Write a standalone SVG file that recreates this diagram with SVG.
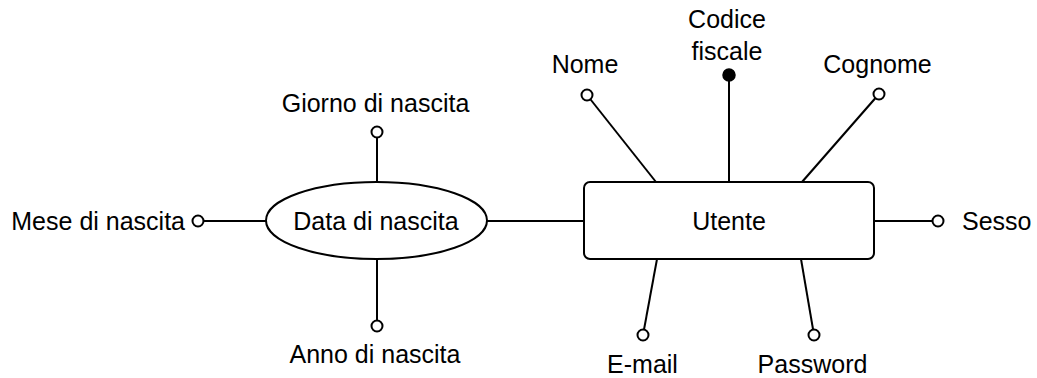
<svg xmlns="http://www.w3.org/2000/svg" width="1037" height="378" viewBox="0 0 1037 378">
  <style>
    .edge { stroke: #000; stroke-width: 2; fill: none; }
    .shape { stroke: #000; stroke-width: 2; fill: #fff; }
    .attr { stroke: #000; stroke-width: 2; fill: #fff; }
    .key { stroke: #000; stroke-width: 1.5; fill: #000; }
    text { font-family: "Liberation Sans", Arial, sans-serif; font-size: 25px; fill: #000; }
    .mid { text-anchor: middle; }
  </style>

  <!-- connectors -->
  <g id="connectors">
    <line class="edge" x1="377" y1="132" x2="377" y2="182"/>
    <line class="edge" x1="377" y1="259" x2="377" y2="326"/>
    <line class="edge" x1="198" y1="221" x2="266" y2="221"/>
    <line class="edge" x1="487" y1="221" x2="584" y2="221"/>
    <line class="edge" x1="587" y1="95" x2="656" y2="182"/>
    <line class="edge" x1="729" y1="75" x2="729" y2="182"/>
    <line class="edge" x1="879" y1="94" x2="802" y2="182"/>
    <line class="edge" x1="874" y1="221" x2="938" y2="221"/>
    <line class="edge" x1="657" y1="259" x2="643" y2="335"/>
    <line class="edge" x1="801" y1="259" x2="814" y2="335"/>
  </g>

  <!-- composite attribute -->
  <g id="data-nascita">
    <ellipse class="shape" cx="376.5" cy="220.5" rx="110.5" ry="38.5"/>
    <text class="mid" x="376" y="230">Data di nascita</text>
  </g>

  <g id="giorno-nascita">
    <circle class="attr" cx="377" cy="132" r="5.5"/>
    <text class="mid" x="375.5" y="112">Giorno di nascita</text>
  </g>

  <g id="mese-nascita">
    <circle class="attr" cx="198" cy="221" r="5.5"/>
    <text x="185" y="230" text-anchor="end">Mese di nascita</text>
  </g>

  <g id="anno-nascita">
    <circle class="attr" cx="377" cy="326" r="5.5"/>
    <text class="mid" x="375" y="363">Anno di nascita</text>
  </g>

  <!-- entity -->
  <g id="utente">
    <rect class="shape" x="584" y="182" width="290" height="77" rx="6"/>
    <text class="mid" x="729" y="230">Utente</text>
  </g>

  <g id="nome">
    <circle class="attr" cx="587" cy="95" r="5.5"/>
    <text class="mid" x="585" y="73">Nome</text>
  </g>

  <g id="codice-fiscale">
    <circle class="key" cx="729" cy="75" r="6"/>
    <text class="mid" x="727" y="28">Codice</text>
    <text class="mid" x="727" y="60">fiscale</text>
  </g>

  <g id="cognome">
    <circle class="attr" cx="879" cy="94" r="5.5"/>
    <text class="mid" x="877.5" y="73">Cognome</text>
  </g>

  <g id="sesso">
    <circle class="attr" cx="938" cy="221" r="5.5"/>
    <text x="962" y="230">Sesso</text>
  </g>

  <g id="email">
    <circle class="attr" cx="643" cy="335" r="5.5"/>
    <text class="mid" x="642.5" y="373">E-mail</text>
  </g>

  <g id="password">
    <circle class="attr" cx="814" cy="335" r="5.5"/>
    <text class="mid" x="812.5" y="373">Password</text>
  </g>
</svg>
